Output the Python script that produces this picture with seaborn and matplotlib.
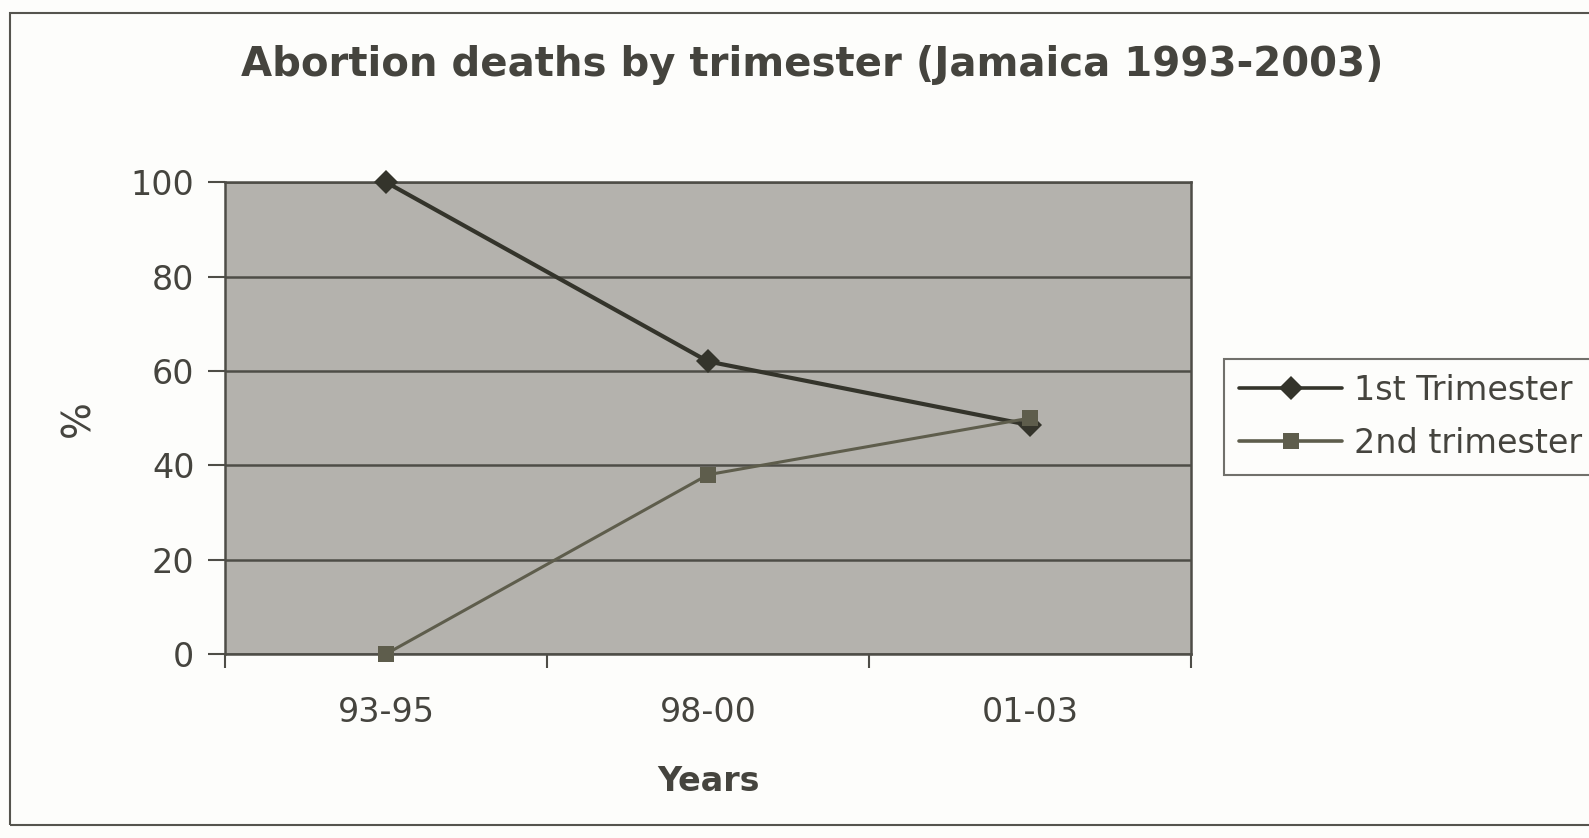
import matplotlib
matplotlib.use("Agg")
import matplotlib.pyplot as plt
import seaborn as sns
import pandas as pd
from matplotlib.patches import Rectangle

years = ["93-95", "98-00", "01-03"]
first_trimester = [100, 62, 48.5]
second_trimester = [0, 38, 50]
series_names = ["1st Trimester", "2nd trimester"]
yticks = [0, 20, 40, 60, 80, 100]

sns.set_theme(style="white")
plt.rcParams['font.family'] = ['DejaVu Sans']

text_col = "#45443e"
bg_col = "#b4b2ad"
c1 = "#34342b"
c2 = "#5e5d4c"

df = pd.DataFrame({
    "Years": years * 2,
    "value": first_trimester + second_trimester,
    "series": [series_names[0]] * 3 + [series_names[1]] * 3,
})

fig = plt.figure(figsize=(15.89, 8.38), dpi=100)
fig.patch.set_facecolor("#fdfdfb")
ax = fig.add_axes([0.1416, 0.2196, 0.608, 0.563])
ax.set_facecolor(bg_col)

sns.lineplot(data=df, x="Years", y="value", hue="series", style="series",
             palette={series_names[0]: c1, series_names[1]: c2},
             markers={series_names[0]: "D", series_names[1]: "s"},
             dashes=False, markersize=12, linewidth=2.6, ax=ax,
             markeredgewidth=0)
for ln, lw in zip(ax.lines, [3.0, 2.2]):
    ln.set_linewidth(lw)
    ln.set_clip_on(False)
    ln.set_zorder(5)

ax.set_xlim(-0.5, 2.5)
ax.set_ylim(0, 100)
ax.set_yticks(yticks)
ax.set_yticklabels([str(v) for v in yticks])
ax.yaxis.grid(True, color="#4e4d47", linewidth=1.8)
ax.set_axisbelow(True)
ax.set_xticks([0, 1, 2])
ax.set_xticks([-0.5, 0.5, 1.5, 2.5], minor=True)
ax.tick_params(axis="x", which="major", length=0, pad=30, labelsize=24, labelcolor=text_col)
ax.tick_params(axis="x", which="minor", length=10, width=1.5, color="#4e4d47", direction="out", bottom=True)
ax.tick_params(axis="y", length=12, width=1.5, color="#4e4d47", direction="out", left=True, pad=10,
               labelsize=24, labelcolor=text_col)
for s in ax.spines.values():
    s.set_color("#4e4d47")
    s.set_linewidth(1.8)

ax.set_xlabel("Years", fontsize=24, fontweight="bold", color=text_col, labelpad=26)
ax.set_ylabel("%", fontsize=28, color=text_col, labelpad=24)

fig.text(0.511, 0.922, "Abortion deaths by trimester (Jamaica 1993-2003)",
         ha="center", va="center", fontsize=29, fontweight="bold", color=text_col)

leg = ax.legend(loc="upper left", bbox_to_anchor=(1.034, 0.626), frameon=True,
                fontsize=24, handlelength=3.1, handletextpad=0.35, borderpad=0.45,
                labelspacing=0.6, borderaxespad=0, fancybox=False, title=None)
leg.get_frame().set_edgecolor("#4e4d47")
leg.get_frame().set_linewidth(1.5)
leg.get_frame().set_facecolor("#fdfdfb")
for t in leg.get_texts():
    t.set_color(text_col)

fig.patches.append(Rectangle((0.006, 0.015), 1.2, 0.97, transform=fig.transFigure,
                             fill=False, edgecolor="#55544e", linewidth=1.5))

fig.savefig("out.png", dpi=100)
